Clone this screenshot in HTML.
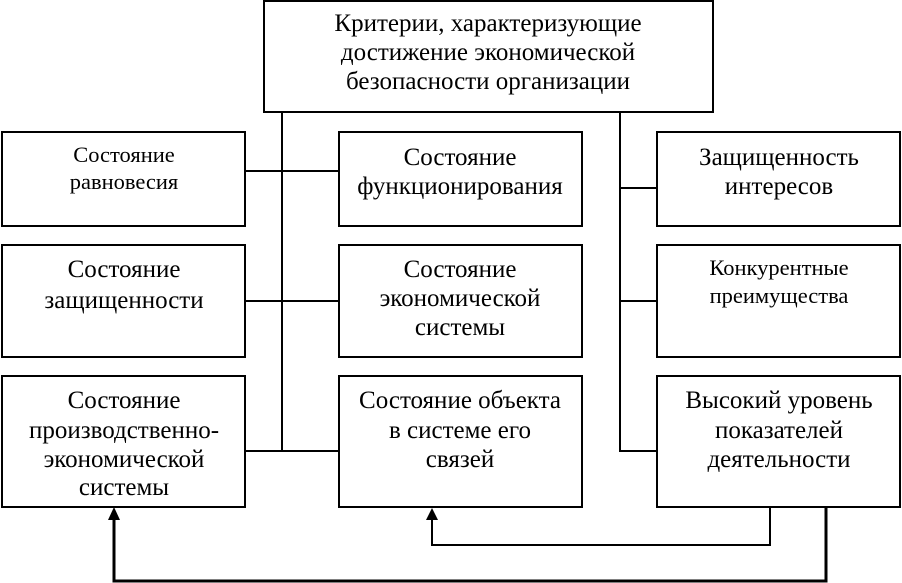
<!DOCTYPE html>
<html><head><meta charset="utf-8"><style>
html,body{margin:0;padding:0;background:#fff;}
svg{display:block;}
text{font-family:"Liberation Serif",serif;fill:#000;text-anchor:middle;}
</style></head><body>
<svg width="902" height="583" viewBox="0 0 902 583" xmlns="http://www.w3.org/2000/svg">
<g fill="none" stroke="#000" stroke-width="2">
<rect x="264" y="1" width="449" height="111"/>
<rect x="2" y="132" width="243" height="94"/>
<rect x="2" y="245" width="243" height="112"/>
<rect x="2" y="376" width="243" height="131"/>
<rect x="339" y="132" width="243" height="94"/>
<rect x="339" y="245" width="243" height="112"/>
<rect x="339" y="376" width="243" height="131"/>
<rect x="657" y="132" width="243" height="94"/>
<rect x="657" y="245" width="243" height="112"/>
<rect x="657" y="376" width="243" height="131"/>
<path d="M282 113V452M245 171H339M245 301H339M245 451H339"/>
<path d="M620 113V452M620 188H657M620 301H657M620 451H657"/>
<path d="M770 508V545H432V518"/>
</g>
<path d="M826 508V581H114V518" fill="none" stroke="#000" stroke-width="3"/>
<polygon points="432,508 426,520 438,520" fill="#000"/>
<polygon points="114,507 108,520 120,520" fill="#000"/>
<g style="font-size:25px">
<text x="488" y="31">Критерии, характеризующие</text>
<text x="488" y="60">достижение экономической</text>
<text x="488" y="89">безопасности организации</text>
<text x="124" y="162" style="font-size:22.5px">Состояние</text>
<text x="124" y="189" style="font-size:22.5px">равновесия</text>
<text x="124" y="277">Состояние</text>
<text x="124" y="308">защищенности</text>
<text x="124" y="408">Состояние</text>
<text x="124" y="438">производственно-</text>
<text x="124" y="467">экономической</text>
<text x="124" y="495">системы</text>
<text x="460" y="165">Состояние</text>
<text x="460" y="194">функционирования</text>
<text x="460" y="277">Состояние</text>
<text x="460" y="306">экономической</text>
<text x="460" y="335">системы</text>
<text x="460" y="408">Состояние объекта</text>
<text x="460" y="438">в системе его</text>
<text x="460" y="467">связей</text>
<text x="779" y="165">Защищенность</text>
<text x="779" y="194">интересов</text>
<text x="779" y="275" style="font-size:22.5px">Конкурентные</text>
<text x="779" y="303" style="font-size:22.5px">преимущества</text>
<text x="779" y="408">Высокий уровень</text>
<text x="779" y="438">показателей</text>
<text x="779" y="467">деятельности</text>
</g>
</svg>
</body></html>
